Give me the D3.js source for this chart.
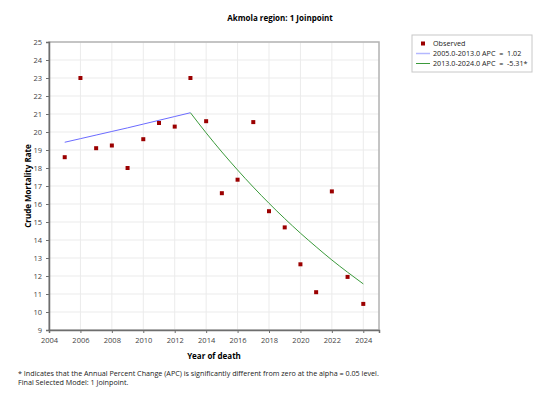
<!DOCTYPE html>
<html>
<head>
<meta charset="utf-8">
<script src="https://cdn.jsdelivr.net/npm/d3@7"></script>
<style>
  body { margin: 0; background: #fff; }
  text { font-family: "Open Sans", "Noto Sans", sans-serif; white-space: pre; }
</style>
</head>
<body>
<div id="chart"></div>
<script>
// observed crude mortality rates
const years = [2005, 2006, 2007, 2008, 2009, 2010, 2011, 2012, 2013, 2014, 2015, 2016, 2017, 2018, 2019, 2020, 2021, 2022, 2023, 2024];
const observed = [18.6, 23.0, 19.1, 19.25, 18.0, 19.6, 20.5, 20.3, 23.0, 20.6, 16.6, 17.35, 20.55, 15.6, 14.7, 12.65, 11.1, 16.7, 11.95, 10.45];

// fitted segments (joinpoint model)
const seg1Years = [2005, 2006, 2007, 2008, 2009, 2010, 2011, 2012, 2013];
const seg1Fit = [19.43, 19.63, 19.83, 20.03, 20.23, 20.44, 20.65, 20.86, 21.07];
const seg2Years = [2013, 2014, 2015, 2016, 2017, 2018, 2019, 2020, 2021, 2022, 2023, 2024];
const seg2Fit = [21.07, 19.95, 18.89, 17.89, 16.94, 16.04, 15.19, 14.38, 13.62, 12.89, 12.21, 11.56];

const xTicks = [2004, 2006, 2008, 2010, 2012, 2014, 2016, 2018, 2020, 2022, 2024];
const yTicks = [9, 10, 11, 12, 13, 14, 15, 16, 17, 18, 19, 20, 21, 22, 23, 24, 25];

const legendLabels = ["Observed", "2005.0-2013.0 APC  =  1.02", "2013.0-2024.0 APC  =  -5.31*"];
const footnotes = [
    "* Indicates that the Annual Percent Change (APC) is significantly different from zero at the alpha = 0.05 level.",
    "Final Selected Model: 1 Joinpoint."
];

const width = 549, height = 412;
const margin = { left: 49, top: 42, right: 170, bottom: 82 };

const svg = d3.select("#chart").append("svg")
    .attr("width", width)
    .attr("height", height);

const x = d3.scaleLinear()
    .domain([2004, 2025])
    .range([margin.left, width - margin.right]);

const y = d3.scaleLinear()
    .domain([9, 25])
    .range([height - margin.bottom, margin.top]);

// grid
svg.append("g")
    .selectAll("line.gx")
    .data(xTicks.concat([2025]))
    .enter().append("line")
    .attr("x1", d => x(d)).attr("x2", d => x(d))
    .attr("y1", y(9)).attr("y2", y(25))
    .attr("stroke", "#ebebeb");

svg.append("g")
    .selectAll("line.gy")
    .data(yTicks)
    .enter().append("line")
    .attr("x1", x(2004)).attr("x2", x(2025))
    .attr("y1", d => y(d)).attr("y2", d => y(d))
    .attr("stroke", "#ebebeb");

// frame
svg.append("rect")
    .attr("x", x(2004))
    .attr("y", y(25))
    .attr("width", x(2025) - x(2004))
    .attr("height", y(9) - y(25))
    .attr("fill", "none")
    .attr("stroke", "#b4b4b4")
    .attr("stroke-width", 1.5);

// axes
const xAxis = svg.append("g")
    .attr("transform", "translate(0," + y(9) + ")")
    .call(d3.axisBottom(x).tickValues(xTicks).tickFormat(d3.format("d")).tickSize(3));
const yAxis = svg.append("g")
    .attr("transform", "translate(" + x(2004) + ",0)")
    .call(d3.axisLeft(y).tickValues(yTicks).tickSize(3));

[xAxis, yAxis].forEach(function (a) {
    a.select(".domain").attr("stroke", "#6e6e6e").attr("stroke-width", 1.5);
    a.selectAll(".tick line").attr("stroke", "#6e6e6e");
    a.selectAll(".tick text")
        .attr("fill", "#444")
        .style("font-size", "7.5px")
        .style("font-family", "'Open Sans', sans-serif");
});
xAxis.selectAll(".tick text").attr("dy", "0.9em");
yAxis.selectAll(".tick text").attr("dx", "-1px");

// fitted lines
const line = d3.line()
    .x(d => x(d[0]))
    .y(d => y(d[1]));

svg.append("path")
    .datum(seg1Years.map((yr, i) => [yr, seg1Fit[i]]))
    .attr("d", line)
    .attr("fill", "none")
    .attr("stroke", "#6b6bff")
    .attr("stroke-width", 1);

svg.append("path")
    .datum(seg2Years.map((yr, i) => [yr, seg2Fit[i]]))
    .attr("d", d3.line().x(d => x(d[0])).y(d => y(d[1])).curve(d3.curveMonotoneX))
    .attr("fill", "none")
    .attr("stroke", "#3b9a3b")
    .attr("stroke-width", 1);

// observed points
svg.append("g")
    .selectAll("rect")
    .data(years.map((yr, i) => [yr, observed[i]]))
    .enter().append("rect")
    .attr("x", d => x(d[0]) - 2)
    .attr("y", d => y(d[1]) - 2)
    .attr("width", 4)
    .attr("height", 4)
    .attr("fill", "#9b0000");

// titles
svg.append("text")
    .attr("x", 280)
    .attr("y", 21)
    .attr("text-anchor", "middle")
    .style("font-size", "8px")
    .style("font-weight", "bold")
    .text("Akmola region: 1 Joinpoint");

svg.append("text")
    .attr("x", (x(2004) + x(2025)) / 2)
    .attr("y", 359)
    .attr("text-anchor", "middle")
    .style("font-size", "8px")
    .style("font-weight", "bold")
    .text("Year of death");

svg.append("text")
    .attr("transform", "translate(31," + ((y(9) + y(25)) / 2) + ") rotate(-90)")
    .attr("text-anchor", "middle")
    .style("font-size", "8px")
    .style("font-weight", "bold")
    .text("Crude Mortality Rate");

// footnote
svg.append("g")
    .selectAll("text")
    .data(footnotes)
    .enter().append("text")
    .attr("x", 18)
    .attr("y", (d, i) => 376 + i * 9)
    .style("font-size", "7.2px")
    .attr("fill", "#222")
    .text(d => d);

// legend
const legend = svg.append("g")
    .attr("transform", "translate(412, 35)");

legend.append("rect")
    .attr("width", 120)
    .attr("height", 37)
    .attr("fill", "#fff")
    .attr("stroke", "#c8c8c8");

legend.append("rect")
    .attr("x", 9).attr("y", 6.5)
    .attr("width", 4).attr("height", 4)
    .attr("fill", "#9b0000");
legend.append("line")
    .attr("x1", 4).attr("x2", 18)
    .attr("y1", 18.5).attr("y2", 18.5)
    .attr("stroke", "#b4b8ff").attr("stroke-width", 1.5);
legend.append("line")
    .attr("x1", 4).attr("x2", 18)
    .attr("y1", 28.5).attr("y2", 28.5)
    .attr("stroke", "#3b9a3b").attr("stroke-width", 1);

legend.selectAll("text.lab")
    .data(legendLabels)
    .enter().append("text")
    .attr("x", 21)
    .attr("y", (d, i) => 8.5 + i * 10)
    .attr("dy", "0.35em")
    .style("font-size", "7.2px")
    .attr("fill", "#222")
    .text(d => d);
</script>
</body>
</html>
